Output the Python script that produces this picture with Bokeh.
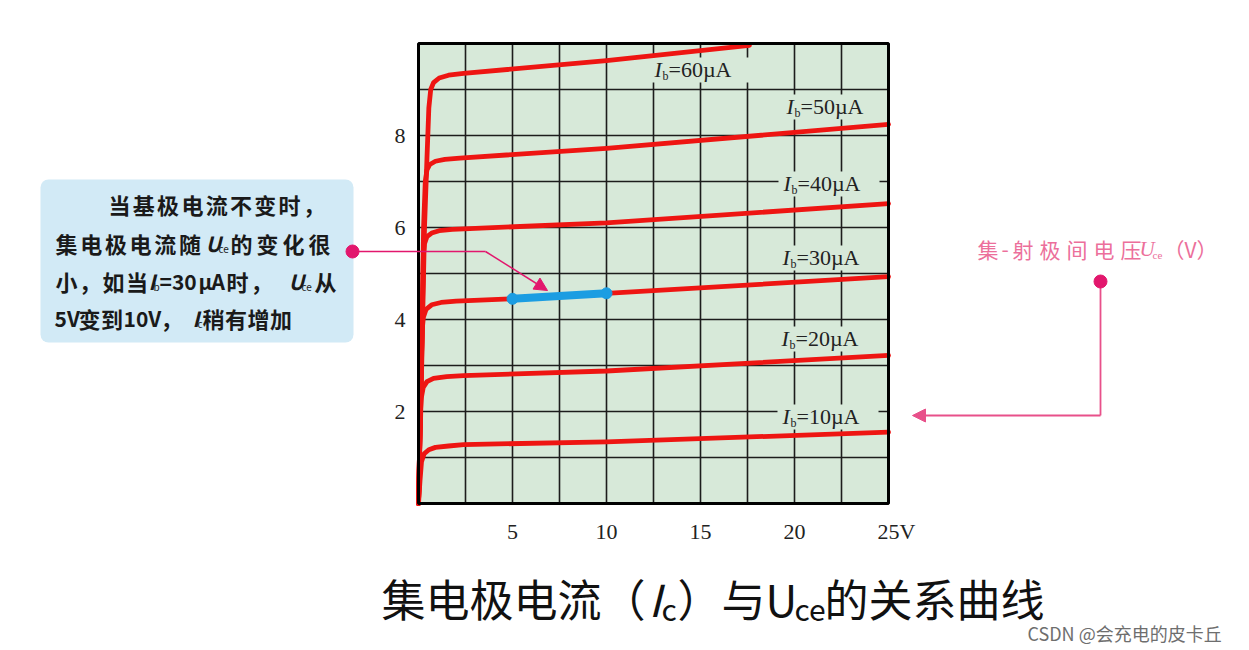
from bokeh.plotting import figure
from bokeh.models import LinearAxis, FixedTicker, Range1d, ColumnDataSource, Arrow, NormalHead
from bokeh.embed import file_html
from bokeh.resources import INLINE

# ---------------- data ----------------
x_ticks = [5, 10, 15, 20, 25]
y_ticks = [2, 4, 6, 8]
ib_values = [10, 20, 30, 40, 50, 60]  # base current, µA

uce_10 = [0, 0.08, 0.16, 0.3, 0.55, 0.9, 1.6, 2.4, 10, 25]
ic_10 = [0, 0.5, 0.91, 1.08, 1.17, 1.22, 1.25, 1.28, 1.34, 1.55]
uce_20 = [0, 0.1, 0.15, 0.25, 0.45, 0.8, 1.5, 2.4, 10, 25]
ic_20 = [0, 2.0, 2.3, 2.52, 2.65, 2.72, 2.76, 2.78, 2.88, 3.22]
uce_30 = [0, 0.1, 0.2, 0.26, 0.4, 0.7, 1.2, 2.0, 5, 10, 25]
ic_30 = [0, 2, 3.8, 4.05, 4.22, 4.32, 4.37, 4.40, 4.45, 4.57, 4.93]
uce_40 = [0, 0.1, 0.2, 0.26, 0.32, 0.45, 0.7, 1.1, 1.8, 10, 25]
ic_40 = [0, 2, 4, 5.4, 5.65, 5.8, 5.88, 5.93, 5.96, 6.1, 6.52]
uce_50 = [0, 0.1, 0.2, 0.27, 0.36, 0.45, 0.6, 0.9, 1.4, 2.2, 10, 25]
ic_50 = [0, 2, 4, 6, 7.0, 7.25, 7.37, 7.44, 7.48, 7.51, 7.72, 8.24]
uce_60 = [0, 0.12, 0.22, 0.32, 0.45, 0.55, 0.65, 0.8, 1.1, 1.6, 2.4, 10, 17.6]
ic_60 = [0, 2, 4, 6, 7.5, 8.6, 9.0, 9.15, 9.25, 9.31, 9.35, 9.63, 9.96]

blue_uce = [5, 10]
blue_ic = [4.45, 4.57]

curves_x = [uce_10, uce_20, uce_30, uce_40, uce_50, uce_60]
curves_y = [ic_10, ic_20, ic_30, ic_40, ic_50, ic_60]

# ---------------- layout ----------------
W, H = 1249, 650
X0P, X1P = 418, 888   # page x of 0 V / 25 V
Y0P, Y1P = 503, 43    # page y of 0 / 10
XMAX, YMAX = 25, 10
sx = (X1P - X0P) / XMAX
sy = (Y0P - Y1P) / YMAX


def dx(px):
    return (px - X0P) / sx


def dy(py):
    return (Y0P - py) / sy


p = figure(width=W, height=H, x_range=Range1d(dx(0), dx(W)), y_range=Range1d(dy(H), dy(0)),
           min_border=0, toolbar_location=None, output_backend="svg",
           x_axis_location=None, y_axis_location=None)
p.outline_line_color = None
p.background_fill_color = "white"
p.border_fill_color = "white"
p.grid.visible = False

BG = "#d7e9d9"
GRID = "#1c1c1c"
RED = "#ee1512"
PINK = "#e2176d"
SERIF = "Liberation Serif"
CJK = "Noto Sans CJK SC"

# plot area background
p.quad(left=0, right=XMAX, bottom=0, top=YMAX, fill_color=BG, line_color=None)

# grid
gx = [2.5 * i for i in range(1, 10)]
gy = [1.0 * i for i in range(1, 10)]
p.segment(x0=gx, y0=[0] * len(gx), x1=gx, y1=[YMAX] * len(gx), line_color=GRID, line_width=1.6)
p.segment(x0=[0] * len(gy), y0=gy, x1=[XMAX] * len(gy), y1=gy, line_color=GRID, line_width=1.6)

# label positions (page px): left of "I", vertical centre
label_pos = [(782, 416), (781, 338), (782, 257), (783, 183), (786, 106), (654, 69)]

# label backgrounds hiding grid
p.quad(left=[dx(x - 5) for x, y in label_pos], right=[dx(x + 96) for x, y in label_pos],
       top=[dy(y - 12) for x, y in label_pos], bottom=[dy(y + 13) for x, y in label_pos],
       fill_color=BG, line_color=None)

# curves
for cx, cy in zip(curves_x, curves_y):
    p.line(cx, cy, line_color=RED, line_width=4.8, line_join="round", line_cap="round")

# blue highlight
p.line(blue_uce, blue_ic, line_color="#1b9de2", line_width=8, line_cap="round")
p.scatter(blue_uce, blue_ic, size=11, color="#1b9de2")

# plot border
p.quad(left=0, right=XMAX, bottom=0, top=YMAX, fill_color=None, line_color="black", line_width=3)

# axes
xax = LinearAxis(fixed_location=0, ticker=FixedTicker(ticks=x_ticks),
                 axis_line_color=None, major_tick_line_color=None, minor_tick_line_color=None,
                 major_label_text_font=SERIF, major_label_text_font_size="22px",
                 major_label_text_color="#222222", major_label_standoff=15)
p.add_layout(xax, "below")
yax = LinearAxis(fixed_location=0, ticker=FixedTicker(ticks=y_ticks),
                 axis_line_color=None, major_tick_line_color=None, minor_tick_line_color=None,
                 major_label_text_font=SERIF, major_label_text_font_size="22px",
                 major_label_text_color="#222222", major_label_standoff=7)
p.add_layout(yax, "left")

# callout box
p.quad(left=dx(40), right=dx(353), top=dy(179), bottom=dy(342), fill_color="#d2eaf6",
       line_color=None, border_radius=8)

# pink connectors
p.line([dx(352), dx(485)], [dy(251), dy(251)], line_color=PINK, line_width=1.5)
p.add_layout(Arrow(end=NormalHead(size=13, fill_color=PINK, line_color=PINK, line_width=1),
                   x_start=dx(485), y_start=dy(251), x_end=dx(547), y_end=dy(290),
                   line_color=PINK, line_width=1.5))
p.line([dx(1100), dx(1100)], [dy(281), dy(415)], line_color="#e8508a", line_width=1.8)
p.add_layout(Arrow(end=NormalHead(size=13, fill_color="#e8508a", line_color="#e8508a", line_width=1),
                   x_start=dx(1100), y_start=dy(415), x_end=dx(912), y_end=dy(415),
                   line_color="#e8508a", line_width=1.8))
p.scatter([dx(352), dx(1100)], [dy(251), dy(281)], size=13, color=PINK)

# ---------------- texts ----------------
items = []


def add(xp, yp, t, size, font=CJK, style="normal", color="#151515", align="left"):
    items.append(dict(x=dx(xp), y=dy(yp), text=t, size=f"{size}px", font=font,
                      style=style, color=color, align=align))


def run(xp, yp, s, step, size, **kw):
    for i, ch in enumerate(s):
        add(xp + i * step, yp, ch, size, **kw)


# Ib labels
for v, (lx, ly) in zip(ib_values, label_pos):
    add(lx, ly, "I", 22, font=SERIF, style="italic", color="#222")
    add(lx + 8, ly + 6, "b", 12, font=SERIF, color="#222")
    add(lx + 14, ly, f"={v}\u00b5A", 22, font=SERIF, color="#222")

# "V" after 25
add(899, 530.5, "V", 22, font=SERIF, color="#222")

# callout text
CB = dict(style="bold", color="#1a1a1a")
run(108, 203, "当基极电流不变时，", 24.3, 22, **CB)
run(55, 242, "集电极电流随", 24.7, 22, **CB)
add(205, 242, "U", 21, style="bold italic", color="#1a1a1a")
add(218, 248, "ce", 10, color="#1a1a1a")
run(230, 242, "的变化很", 26, 22, **CB)
run(55, 280, "小，如当", 23.5, 22, **CB)
add(148, 280, "I", 21, style="bold italic", color="#1a1a1a")
add(153, 286, "b", 10, color="#1a1a1a")
add(159, 280, "=30", 21, **CB)
add(198, 280, "\u00b5", 21, **CB)
add(211, 280, "A", 21, **CB)
run(226, 280, "时，", 24, 22, **CB)
add(288, 280, "U", 21, style="bold italic", color="#1a1a1a")
add(301, 286, "ce", 10, color="#1a1a1a")
add(314, 280, "从", 22, **CB)
add(54, 317, "5V", 21, **CB)
run(78, 317, "变到", 22.5, 22, **CB)
add(123, 317, "10V", 21, **CB)
add(160, 317, "，", 22, **CB)
add(192, 317, "I", 21, style="bold italic", color="#1a1a1a")
add(197, 323, "c", 10, color="#1a1a1a")
run(202, 317, "稍有增加", 22.5, 22, **CB)

# right annotation
PT = "#ec6f9b"
add(977, 248, "集", 21, color=PT)
add(1001, 248, "-", 21, color=PT)
run(1012, 248, "射极间电压", 27, 21, color=PT)
add(1139, 248, "U", 21, font=SERIF, style="italic", color=PT)
add(1152, 254, "ce", 11, font=SERIF, color=PT)
add(1163, 248, "（V）", 21, color=PT)

# title
add(381, 597, "集电极电流（", 44, color="#111")
add(648, 597, "I", 44, style="italic", color="#111")
add(661, 607, "c", 30, color="#111")
add(677, 597, "）与", 44, color="#111")
add(765, 597, "U", 44, color="#111")
add(794, 607, "ce", 30, color="#111")
add(824, 597, "的关系曲线", 44, color="#111")

# watermark
add(1027, 632, "CSDN @会充电的皮卡丘", 18, color="#6e6e6e")

src = ColumnDataSource({k: [it[k] for it in items] for k in ["x", "y", "text", "size", "font", "style", "color", "align"]})
p.text(x="x", y="y", text="text", text_font="font", text_font_size="size", text_font_style="style",
       text_color="color", text_align="align", text_baseline="middle", source=src)

open("out.html", "w").write(file_html(p, INLINE))
